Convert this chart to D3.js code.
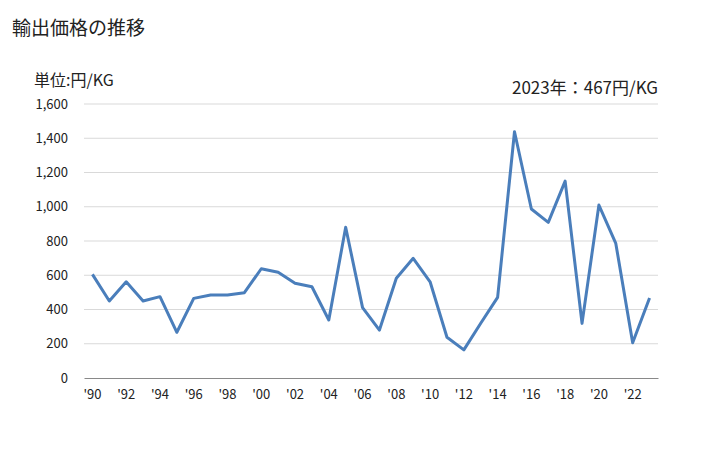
<!DOCTYPE html>
<html>
<head>
<meta charset="utf-8">
<script src="https://cdn.jsdelivr.net/npm/d3@7"></script>
<style>
  body { margin: 0; background: #fff; }
  svg { font-family: "Noto Sans CJK JP", "Noto Sans", sans-serif; }
</style>
</head>
<body>
<div id="chart"></div>
<script>
// data
var years = d3.range(1990, 2024);
var prices = [605, 450, 562, 450, 475, 267, 465, 485, 485, 498,
              638, 617, 553, 533, 339, 880, 411, 280, 582, 699,
              562, 238, 164, 320, 471, 1438, 987, 909, 1150, 319,
              1010, 786, 206, 467];
var yTicks = [0, 200, 400, 600, 800, 1000, 1200, 1400, 1600];
var xTickYears = d3.range(1990, 2024, 2);

var W = 728, H = 450;
var margin = {top: 104, right: 70, bottom: 72, left: 84};
var width = W - margin.left - margin.right,
    height = H - margin.top - margin.bottom;

var svg = d3.select('#chart').append('svg')
    .attr('width', W)
    .attr('height', H);

svg.append('text')
    .attr('x', 12).attr('y', 35)
    .style('font-size', '19px')
    .attr('fill', '#222')
    .text('輸出価格の推移');

svg.append('text')
    .attr('x', 34).attr('y', 86)
    .style('font-size', '16px')
    .attr('fill', '#222')
    .text('単位:円/KG');

svg.append('text')
    .attr('x', margin.left + width).attr('y', 94)
    .attr('text-anchor', 'end')
    .style('font-size', '17px')
    .attr('fill', '#222')
    .text('2023年：' + prices[prices.length - 1] + '円/KG');

var graph = svg.append('g')
    .attr('transform', 'translate(' + margin.left + ',' + margin.top + ')');

var x = d3.scaleBand()
    .domain(years)
    .range([0, width]);

var y = d3.scaleLinear()
    .domain([0, 1600])
    .range([height, 0]);

// gridlines
graph.append('g')
    .selectAll('line')
    .data(yTicks.filter(d => d > 0))
    .enter().append('line')
    .attr('x1', 0).attr('x2', width)
    .attr('y1', d => y(d)).attr('y2', d => y(d))
    .attr('stroke', '#d9d9d9')
    .attr('stroke-width', 1);

// y axis labels
var yAxis = graph.append('g')
    .call(d3.axisLeft(y)
        .tickValues(yTicks)
        .tickSize(0)
        .tickPadding(16)
        .tickFormat(d3.format(',')));
yAxis.select('.domain').remove();
yAxis.selectAll('text')
    .style('font-size', '13px')
    .style('font-family', '"Noto Sans CJK JP", sans-serif')
    .attr('fill', '#222');

// x axis
var xAxis = graph.append('g')
    .attr('transform', 'translate(0,' + height + ')')
    .call(d3.axisBottom(x)
        .tickValues(xTickYears)
        .tickSize(0)
        .tickPadding(12)
        .tickFormat(d => "'" + String(d).slice(2)));
xAxis.select('.domain')
    .attr('stroke', '#898989');
xAxis.selectAll('text')
    .style('font-size', '13px')
    .style('font-family', '"Noto Sans CJK JP", sans-serif')
    .attr('fill', '#222');

var line = d3.line()
    .x((d, i) => x(years[i]) + x.bandwidth() / 2)
    .y(d => y(d));

graph.append('path')
    .datum(prices)
    .attr('fill', 'none')
    .attr('stroke', '#4a7ebb')
    .attr('stroke-width', 3)
    .attr('stroke-linejoin', 'round')
    .attr('d', line);
</script>
</body>
</html>
